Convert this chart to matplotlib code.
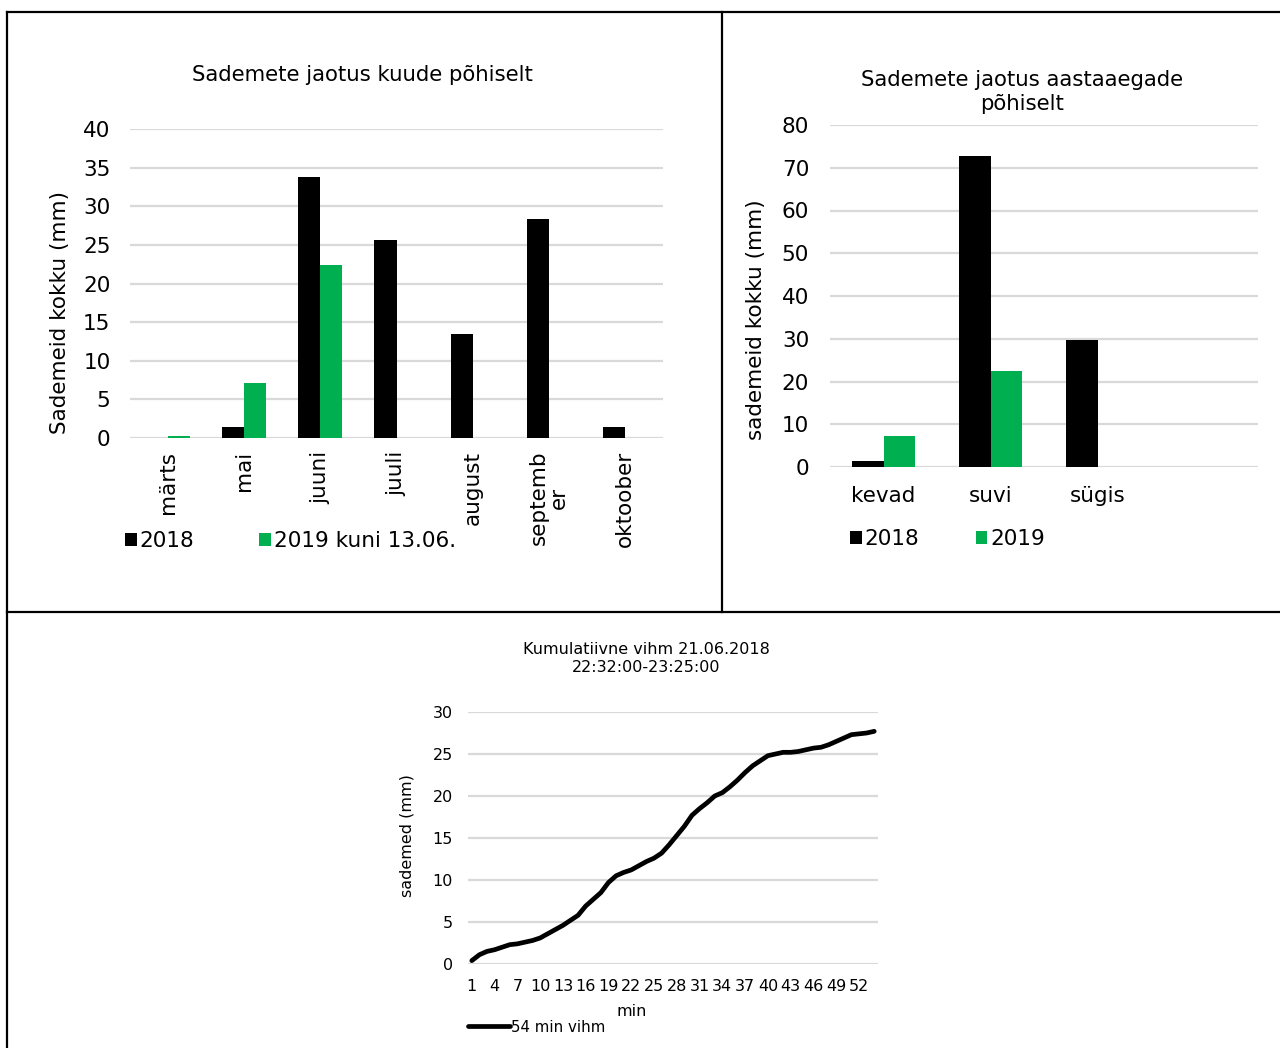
import matplotlib
matplotlib.use('Agg')
import matplotlib.pyplot as plt
from matplotlib.lines import Line2D
import numpy as np

plt.rcParams['font.family'] = ['DejaVu Sans']

# monthly totals
months = ['märts', 'mai', 'juuni', 'juuli', 'august', 'septemb\ner', 'oktoober']
month_2018 = [0, 1.4, 33.8, 25.6, 13.4, 28.4, 1.4]
month_2019 = [0.2, 7.1, 22.4, 0, 0, 0, 0]

# seasonal totals
seasons = ['kevad', 'suvi', 'sügis', '']
season_2018 = [1.4, 72.8, 29.8, 0]
season_2019 = [7.3, 22.4, 0, 0]

# cumulative rain, 1 value per minute
minutes = list(range(1, 55))
cum_rain = [0.4, 1.1, 1.5, 1.7, 2.0, 2.3, 2.4, 2.6, 2.8, 3.1,
            3.6, 4.1, 4.6, 5.2, 5.8, 6.9, 7.7, 8.5, 9.7, 10.5,
            10.9, 11.2, 11.7, 12.2, 12.6, 13.2, 14.2, 15.3, 16.4, 17.7,
            18.5, 19.2, 20.0, 20.4, 21.1, 21.9, 22.8, 23.6, 24.2, 24.8,
            25.0, 25.2, 25.2, 25.3, 25.5, 25.7, 25.8, 26.1, 26.5, 26.9,
            27.3, 27.4, 27.5, 27.7]

BLACK = '#000000'
GREEN = '#00b050'
GRID = '#d9d9d9'
W, H = 1280, 1048
FS = 15.5     # top charts
FS_B = 11.5   # bottom chart

fig = plt.figure(figsize=(W / 100, H / 100), dpi=100)


def box(x0, y0, x1, y1):
    return [x0 / W, 1 - y1 / H, (x1 - x0) / W, (y1 - y0) / H]


def fx(x):
    return x / W


def fy(y):
    return 1 - y / H


def style(ax, ymax, step):
    ax.set_ylim(0, ymax)
    ax.set_yticks(np.arange(0, ymax + 1, step))
    ax.grid(axis='y', color=GRID, linewidth=1.6)
    ax.set_axisbelow(True)
    for s in ax.spines.values():
        s.set_visible(False)
    ax.tick_params(length=0)


# panel borders
for xs, ys in [([7, 1280], [12, 12]), ([7, 7], [12, 1048]),
               ([722, 722], [12, 612]), ([7, 1280], [612, 612])]:
    fig.add_artist(Line2D([fx(x) for x in xs], [fy(y) for y in ys],
                          color='black', linewidth=1.6))

# --- monthly chart ---
ax1 = fig.add_axes(box(130, 129, 663, 438))
x = np.arange(len(months))
bw = 0.29
b1 = ax1.bar(x - bw / 2, month_2018, bw, color=BLACK, label='2018')
b2 = ax1.bar(x + bw / 2, month_2019, bw, color=GREEN, label='2019 kuni 13.06.')
ax1.set_xlim(-0.5, len(months) - 0.5)
style(ax1, 40, 5)
ax1.set_xticks(x)
ax1.set_xticklabels(months, rotation=90, fontsize=FS, linespacing=0.95)
ax1.tick_params(axis='x', pad=9)
ax1.tick_params(axis='y', labelsize=FS, pad=14)
fig.text(fx(362), fy(75), 'Sademete jaotus kuude põhiselt', fontsize=15.3,
         ha='center', va='center')
fig.text(fx(60), fy(313), 'Sademeid kokku (mm)', fontsize=FS, rotation=90,
         ha='center', va='center')
ax1.legend(handles=[b1, b2], loc='center left', ncol=2,
           bbox_to_anchor=(fx(114), fy(541)), bbox_transform=fig.transFigure,
           frameon=False, fontsize=FS, handlelength=0.55, handleheight=0.55,
           handletextpad=0.15, columnspacing=3.0, borderpad=0)

# --- seasonal chart ---
ax2 = fig.add_axes(box(830, 125, 1258, 467))
xs = np.arange(len(seasons))
c1 = ax2.bar(xs - bw / 2, season_2018, bw, color=BLACK, label='2018')
c2 = ax2.bar(xs + bw / 2, season_2019, bw, color=GREEN, label='2019')
ax2.set_xlim(-0.5, len(seasons) - 0.5)
style(ax2, 80, 10)
ax2.set_xticks(xs)
ax2.set_xticklabels(seasons, fontsize=FS)
ax2.tick_params(axis='x', pad=14)
ax2.tick_params(axis='y', labelsize=FS, pad=15)
fig.text(fx(1022), fy(92), 'Sademete jaotus aastaaegade\npõhiselt', fontsize=15.3,
         ha='center', va='center', linespacing=1.3)
fig.text(fx(756), fy(320), 'sademeid kokku (mm)', fontsize=FS, rotation=90,
         ha='center', va='center')
ax2.legend(handles=[c1, c2], loc='center left', ncol=2,
           bbox_to_anchor=(fx(839), fy(539)), bbox_transform=fig.transFigure,
           frameon=False, fontsize=FS, handlelength=0.55, handleheight=0.55,
           handletextpad=0.15, columnspacing=2.6, borderpad=0)

# --- cumulative rain ---
ax3 = fig.add_axes(box(468, 712, 878, 964))
ln, = ax3.plot(minutes, cum_rain, color=BLACK, linewidth=3.4,
               solid_joinstyle='round', solid_capstyle='round',
               label='54 min vihm')
ax3.set_xlim(0.5, 54.5)
style(ax3, 30, 5)
ax3.set_xticks(minutes[::3])
ax3.tick_params(axis='x', labelsize=FS_B, pad=11)
ax3.tick_params(axis='y', labelsize=FS_B, pad=11)
fig.text(fx(646), fy(658), 'Kumulatiivne vihm 21.06.2018\n22:32:00-23:25:00',
         fontsize=FS_B, ha='center', va='center', linespacing=1.25)
fig.text(fx(407), fy(836), 'sademed (mm)', fontsize=FS_B, rotation=90,
         ha='center', va='center')
fig.text(fx(632), fy(1012), 'min', fontsize=FS_B, ha='center', va='center')
ax3.legend(handles=[ln], loc='center left',
           bbox_to_anchor=(fx(460), fy(1027)), bbox_transform=fig.transFigure,
           frameon=False, fontsize=10.8, handlelength=2.8, handletextpad=0.1,
           borderpad=0)

fig.savefig('out.png', dpi=100, facecolor='white')
